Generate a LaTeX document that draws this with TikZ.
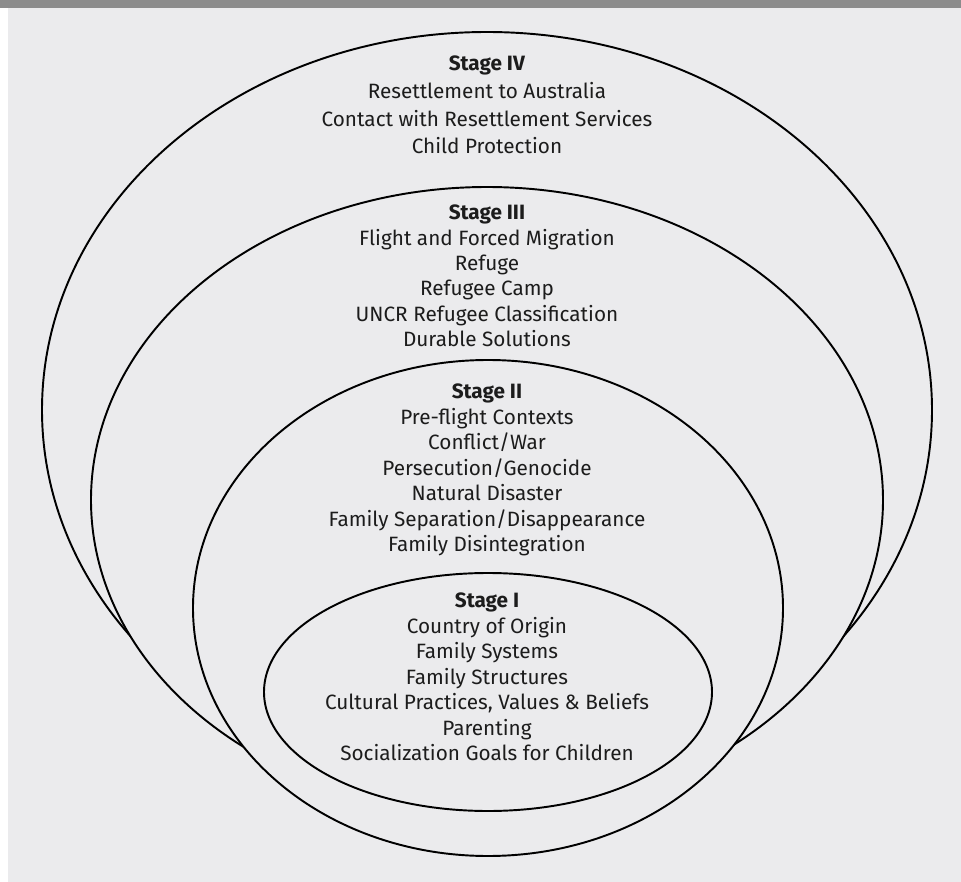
\documentclass[tikz,border=0pt]{standalone}
\usepackage{fontspec}
\setmainfont{Fira Sans}
\definecolor{panel}{HTML}{EBEBED}
\definecolor{bar}{HTML}{8C8C8C}
\definecolor{ink}{HTML}{1C1C1C}
\tikzset{
    ring/.style={fill=panel, draw=black, line width=1.1pt},
    stage/.style={align=center, text=ink, font=\fontsize{11.8}{14.5}\selectfont}
}
\begin{document}
\begin{tikzpicture}[x=0.02cm, y=-0.02cm]
    % Background and top bar
    \useasboundingbox (0,0) rectangle (961,882);
    \fill[white] (0,0) rectangle (961,882);
    \fill[panel] (8,0) rectangle (961,882);
    \fill[bar] (0,0) rectangle (961,8);

    % Draw the rings from outside to inside, each one covers the one behind
    \def\ringlist{
        487/410/445/378, 487/500/396/313,
        488/608/295/248, 488/692/224/119
    }
    \foreach \cx/\cy/\rx/\ry in \ringlist {
        \path[ring] (\cx,\cy) ellipse [x radius=\rx, y radius=\ry];
    }

    % Add labels
    \node[stage, font=\fontsize{11.8}{15.8}\selectfont] (stagefour) at (487,105) {\textbf{Stage IV}\\
        Resettlement to Australia\\
        Contact with Resettlement Services\\
        Child Protection};
    \node[stage] (stagethree) at (487,276) {\textbf{Stage III}\\
        Flight and Forced Migration\\
        Refuge\\
        Refugee Camp\\
        UNCR Refugee Classification\\
        Durable Solutions};
    \node[stage] (stagetwo) at (487,470) {\textbf{Stage II}\\
        Pre-flight Contexts\\
        Conflict/War\\
        Persecution/Genocide\\
        Natural Disaster\\
        Family Separation/Disappearance\\
        Family Disintegration};
    \node[stage] (stageone) at (487,677) {\textbf{Stage I}\\
        Country of Origin\\
        Family Systems\\
        Family Structures\\
        Cultural Practices, Values \& Beliefs\\
        Parenting\\
        Socialization Goals for Children};
\end{tikzpicture}
\end{document}
